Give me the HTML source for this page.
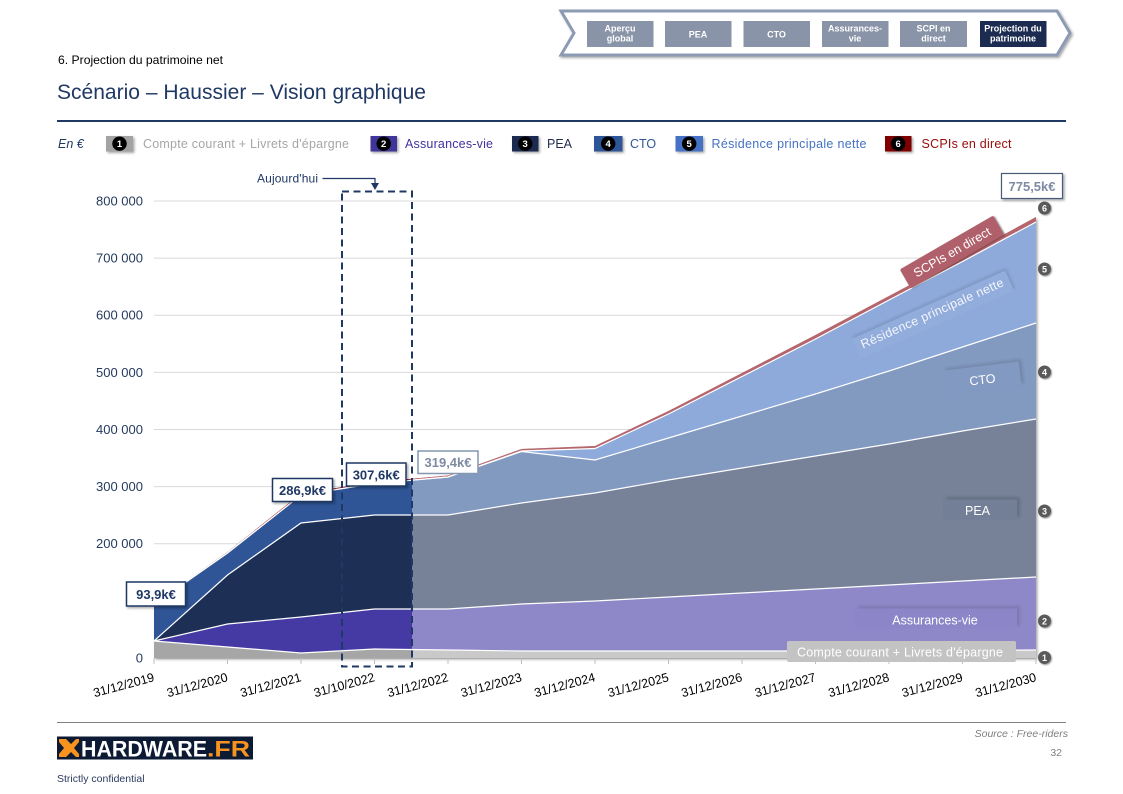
<!DOCTYPE html>
<html><head><meta charset="utf-8"><style>
html,body{margin:0;padding:0;background:#fff;}
svg{display:block;}
text{font-family:"Liberation Sans",Arial,sans-serif;}
</style></head><body>
<svg width="1123" height="794" viewBox="0 0 1123 794" xmlns="http://www.w3.org/2000/svg">
<defs>
<filter id="sh" x="-30%" y="-30%" width="160%" height="160%"><feDropShadow dx="1.5" dy="1.5" stdDeviation="1.2" flood-color="#000" flood-opacity="0.35"/></filter>
<filter id="shs" x="-30%" y="-30%" width="160%" height="160%"><feDropShadow dx="1" dy="1" stdDeviation="0.8" flood-color="#000" flood-opacity="0.4"/></filter>
<filter id="blur2"><feGaussianBlur stdDeviation="1.5"/></filter>
<clipPath id="areaClip"><polygon points="154,604 227.5,552 301,493.5 374.5,482 448,475.5 521.5,449 595,446 668.5,411 742,373 815.5,335 889,296 962.5,257 1036,217 1036,658 154,658"/></clipPath>
</defs>

<!-- NAV -->
<polygon points="561,11 1057,11 1070,33 1057,55 561,55 574,33" fill="#fff" stroke="#8c9ab3" stroke-width="3" filter="url(#sh)"/>
<g font-size="9" font-weight="bold" fill="#fff" text-anchor="middle">
<rect x="587" y="21" width="66.5" height="26" fill="#8a94a8"/>
<text x="620" y="31.5">Aperçu</text><text x="620" y="41.5">global</text>
<rect x="665" y="21" width="66.5" height="26" fill="#8a94a8"/>
<text x="698" y="37.5">PEA</text>
<rect x="743.5" y="21" width="66.5" height="26" fill="#8a94a8"/>
<text x="776.5" y="37.5">CTO</text>
<rect x="822" y="21" width="66.5" height="26" fill="#8a94a8"/>
<text x="855" y="31.5">Assurances-</text><text x="855" y="41.5">vie</text>
<rect x="900" y="21" width="67" height="26" fill="#8a94a8"/>
<text x="933.5" y="31.5">SCPI en</text><text x="933.5" y="41.5">direct</text>
<rect x="980" y="21" width="66.5" height="26" fill="#1c2c51"/>
<text x="1013" y="31.5">Projection du</text><text x="1013" y="41.5">patrimoine</text>
</g>

<!-- HEADER -->
<text x="58" y="64" font-size="12" fill="#000" textLength="165" lengthAdjust="spacingAndGlyphs">6. Projection du patrimoine net</text>
<text x="57" y="99" font-size="21" fill="#1f3864" textLength="369" lengthAdjust="spacingAndGlyphs">Scénario – Haussier – Vision graphique</text>
<rect x="57" y="120" width="1009" height="2" fill="#1f3864"/>

<!-- LEGEND -->
<text x="58" y="148" font-size="12.5" font-style="italic" fill="#1f3864">En €</text>
<g>
<rect x="106" y="136" width="27" height="15.5" fill="#a3a3a3" filter="url(#sh)"/>
<rect x="370.5" y="136" width="26.5" height="15.5" fill="#3f3599" filter="url(#sh)"/>
<rect x="512" y="136" width="26.5" height="15.5" fill="#1e2c50" filter="url(#sh)"/>
<rect x="594" y="136" width="28.5" height="15.5" fill="#2f5597" filter="url(#sh)"/>
<rect x="675.5" y="136" width="27.5" height="15.5" fill="#4472c4" filter="url(#sh)"/>
<rect x="885" y="136" width="26.5" height="15.5" fill="#7f0000" filter="url(#sh)"/>
</g>
<g fill="#000">
<circle cx="119.5" cy="143.7" r="7.2"/><circle cx="383.7" cy="143.7" r="7.2"/><circle cx="525.2" cy="143.7" r="7.2"/>
<circle cx="608.2" cy="143.7" r="7.2"/><circle cx="689.2" cy="143.7" r="7.2"/><circle cx="898.2" cy="143.7" r="7.2"/>
</g>
<g font-size="9.5" font-weight="bold" fill="#fff" text-anchor="middle">
<text x="119.5" y="147.2">1</text><text x="383.7" y="147.2">2</text><text x="525.2" y="147.2">3</text>
<text x="608.2" y="147.2">4</text><text x="689.2" y="147.2">5</text><text x="898.2" y="147.2">6</text>
</g>
<g font-size="12.5">
<text x="143" y="148" fill="#a6a6a6" textLength="206" lengthAdjust="spacing">Compte courant + Livrets d'épargne</text>
<text x="405" y="148" fill="#3f33a0" textLength="88" lengthAdjust="spacing">Assurances-vie</text>
<text x="547" y="148" fill="#1f2d4f">PEA</text>
<text x="630" y="148" fill="#2f5597">CTO</text>
<text x="711.5" y="148" fill="#4472c4" textLength="155" lengthAdjust="spacing">Résidence principale nette</text>
<text x="921.5" y="148" fill="#9a0a0a" textLength="90" lengthAdjust="spacing">SCPIs en direct</text>
</g>

<!-- GRID -->
<g stroke="#d9d9d9" stroke-width="1">
<line x1="154" y1="201" x2="1036" y2="201"/>
<line x1="154" y1="258.1" x2="1036" y2="258.1"/>
<line x1="154" y1="315.25" x2="1036" y2="315.25"/>
<line x1="154" y1="372.4" x2="1036" y2="372.4"/>
<line x1="154" y1="429.5" x2="1036" y2="429.5"/>
<line x1="154" y1="486.6" x2="1036" y2="486.6"/>
<line x1="154" y1="543.75" x2="1036" y2="543.75"/>
<line x1="154" y1="600.9" x2="1036" y2="600.9"/>
<line x1="154" y1="658" x2="1036" y2="658"/>
</g>
<g font-size="13" fill="#253a5e" text-anchor="end">
<text x="143" y="205.5">800 000</text>
<text x="143" y="262.6">700 000</text>
<text x="143" y="319.7">600 000</text>
<text x="143" y="376.9">500 000</text>
<text x="143" y="434">400 000</text>
<text x="143" y="491.1">300 000</text>
<text x="143" y="548.2">200 000</text>
<text x="143" y="662.5">0</text>
</g>

<!-- AREAS -->
<polygon points="154,604 227.5,552 301,493.5 374.5,482 448,475.5 521.5,449 595,446 668.5,411 742,373 815.5,335 889,296 962.5,257 1036,217 1036,658 154,658" fill="#840010" filter="url(#sh)"/>
<polygon points="154,604.4 227.5,553 301,495 374.5,483.5 448,477 521.5,451 595,448.5 668.5,414 742,376.5 815.5,339 889,300 962.5,261.5 1036,222 1036,658 154,658" fill="#4472c4"/>
<polygon points="154,604.4 227.5,553 301,495 374.5,483.5 448,477 521.5,451.5 595,460 668.5,438 742,416 815.5,394 889,371 962.5,347 1036,323 1036,658 154,658" fill="#2f5597"/>
<polygon points="154,641 227.5,575 301,523 374.5,515 448,515 521.5,503 595,493 668.5,480 742,468 815.5,456 889,444 962.5,431 1036,419 1036,658 154,658" fill="#1d2f55"/>
<polygon points="154,641 227.5,624 301,617 374.5,609 448,609 521.5,604 595,601 668.5,597 742,593 815.5,589 889,585 962.5,581 1036,577 1036,658 154,658" fill="#453aa3"/>
<polygon points="154,641 227.5,647 301,653 374.5,649 448,650 521.5,651 595,651 668.5,651 742,651 815.5,651 889,651 962.5,650.5 1036,650 1036,658 154,658" fill="#a6a6a6"/>
<rect x="412" y="150" width="624" height="510" fill="#fff" fill-opacity="0.4" clip-path="url(#areaClip)"/>
<g fill="none" stroke="#fff" stroke-width="1.2">
<polyline points="154,604.4 227.5,553 301,495 374.5,483.5 448,477 521.5,451 595,448.5 668.5,414 742,376.5 815.5,339 889,300 962.5,261.5 1036,222"/>
<polyline points="154,604.4 227.5,553 301,495 374.5,483.5 448,477 521.5,451.5 595,460 668.5,438 742,416 815.5,394 889,371 962.5,347 1036,323"/>
<polyline points="154,641 227.5,575 301,523 374.5,515 448,515 521.5,503 595,493 668.5,480 742,468 815.5,456 889,444 962.5,431 1036,419"/>
<polyline points="154,641 227.5,624 301,617 374.5,609 448,609 521.5,604 595,601 668.5,597 742,593 815.5,589 889,585 962.5,581 1036,577"/>
<polyline points="154,641 227.5,647 301,653 374.5,649 448,650 521.5,651 595,651 668.5,651 742,651 815.5,651 889,651 962.5,650.5 1036,650"/>
</g>

<!-- ticks and x labels -->
<g stroke="#bfbfbf" stroke-width="1">
<line x1="154" y1="658" x2="154" y2="664"/><line x1="227.5" y1="658" x2="227.5" y2="664"/><line x1="301" y1="658" x2="301" y2="664"/>
<line x1="374.5" y1="658" x2="374.5" y2="664"/><line x1="448" y1="658" x2="448" y2="664"/><line x1="521.5" y1="658" x2="521.5" y2="664"/>
<line x1="595" y1="658" x2="595" y2="664"/><line x1="668.5" y1="658" x2="668.5" y2="664"/><line x1="742" y1="658" x2="742" y2="664"/>
<line x1="815.5" y1="658" x2="815.5" y2="664"/><line x1="889" y1="658" x2="889" y2="664"/><line x1="962.5" y1="658" x2="962.5" y2="664"/>
<line x1="1036" y1="658" x2="1036" y2="664"/>
</g>
<g font-size="12.5" fill="#000" text-anchor="end">
<text x="155" y="681" transform="rotate(-15 155 681)">31/12/2019</text>
<text x="228.5" y="681" transform="rotate(-15 228.5 681)">31/12/2020</text>
<text x="302" y="681" transform="rotate(-15 302 681)">31/12/2021</text>
<text x="375.5" y="681" transform="rotate(-15 375.5 681)">31/10/2022</text>
<text x="449" y="681" transform="rotate(-15 449 681)">31/12/2022</text>
<text x="522.5" y="681" transform="rotate(-15 522.5 681)">31/12/2023</text>
<text x="596" y="681" transform="rotate(-15 596 681)">31/12/2024</text>
<text x="669.5" y="681" transform="rotate(-15 669.5 681)">31/12/2025</text>
<text x="743" y="681" transform="rotate(-15 743 681)">31/12/2026</text>
<text x="816.5" y="681" transform="rotate(-15 816.5 681)">31/12/2027</text>
<text x="890" y="681" transform="rotate(-15 890 681)">31/12/2028</text>
<text x="963.5" y="681" transform="rotate(-15 963.5 681)">31/12/2029</text>
<text x="1037" y="681" transform="rotate(-15 1037 681)">31/12/2030</text>
</g>

<!-- Today box -->
<rect x="342" y="191.5" width="70" height="475" fill="none" stroke="#1f3864" stroke-width="2" stroke-dasharray="7,4.5"/>
<text x="257" y="182.5" font-size="12" fill="#1f3864" textLength="61" lengthAdjust="spacing">Aujourd'hui</text>
<polyline points="322.5,178.5 375,178.5 375,184" fill="none" stroke="#1f3864" stroke-width="1.2"/>
<polygon points="371,183 379,183 375,190" fill="#1f3864"/>

<!-- in-chart labels -->
<g transform="translate(952 252) rotate(-30)">
<rect x="-54" y="-11" width="108" height="22" rx="2" fill="#b0606a" filter="url(#shs)"/>
<text x="0" y="4.5" font-size="12.5" fill="#fff" text-anchor="middle">SCPIs en direct</text>
</g>
<g transform="translate(932 313) rotate(-24)">
<rect x="-82" y="-11" width="168" height="22" fill="#000" fill-opacity="0.12" filter="url(#blur2)"/>
<rect x="-84" y="-9" width="168" height="22" fill="#92acdb"/>
<text x="0" y="4.5" font-size="12.5" fill="#f4f6fc" text-anchor="middle" textLength="155" lengthAdjust="spacing">Résidence principale nette</text>
</g>
<g transform="translate(982 376) rotate(-7)">
<rect x="-35" y="-12" width="76" height="24" fill="#000" fill-opacity="0.12" filter="url(#blur2)"/>
<rect x="-38" y="-10" width="76" height="24" fill="#8299c1"/>
<text x="0" y="8" font-size="12.5" fill="#fff" text-anchor="middle">CTO</text>
</g>
<rect x="946" y="497" width="74" height="20" fill="#000" fill-opacity="0.15" filter="url(#blur2)"/>
<rect x="943" y="499.5" width="74" height="20" fill="#737f97"/>
<text x="977.5" y="515" font-size="12.5" fill="#fff" text-anchor="middle">PEA</text>
<rect x="858" y="606" width="162" height="20" fill="#000" fill-opacity="0.12" filter="url(#blur2)"/>
<rect x="855" y="608.5" width="162" height="20" fill="#8c86c8"/>
<text x="935" y="624.5" font-size="12.5" fill="#fff" text-anchor="middle">Assurances-vie</text>
<rect x="787" y="641" width="229" height="21" rx="2" fill="#c3c3c3"/>
<text x="797" y="656.5" font-size="12.5" fill="#fff" textLength="206" lengthAdjust="spacing">Compte courant + Livrets d'épargne</text>

<!-- right numbered circles -->
<g filter="url(#shs)" fill="#5a5a5a">
<circle cx="1044.5" cy="208" r="6.5"/><circle cx="1044.5" cy="269" r="6.5"/><circle cx="1044.5" cy="372" r="6.5"/>
<circle cx="1044.5" cy="511" r="6.5"/><circle cx="1044.5" cy="621" r="6.5"/><circle cx="1044.5" cy="657.5" r="6.5"/>
</g>
<g font-size="9" font-weight="bold" fill="#fff" text-anchor="middle">
<text x="1044.5" y="211.3">6</text><text x="1044.5" y="272.3">5</text><text x="1044.5" y="375.3">4</text>
<text x="1044.5" y="514.3">3</text><text x="1044.5" y="624.3">2</text><text x="1044.5" y="660.8">1</text>
</g>

<!-- value boxes -->
<g font-size="13" font-weight="bold" text-anchor="middle">
<rect x="126.5" y="582" width="59" height="24" fill="#fff" stroke="#1f3864" stroke-width="1.5" filter="url(#sh)"/>
<text x="156" y="599" fill="#1f3864">93,9k€</text>
<rect x="272.5" y="478.5" width="60" height="23" fill="#fff" stroke="#1f3864" stroke-width="1.5" filter="url(#sh)"/>
<text x="302.5" y="495" fill="#1f3864">286,9k€</text>
<rect x="346.5" y="463" width="59.5" height="23" fill="#fff" stroke="#1f3864" stroke-width="1.5" filter="url(#sh)"/>
<text x="376.2" y="479.5" fill="#1f3864">307,6k€</text>
<rect x="418" y="451" width="60" height="22.5" fill="#fff" stroke="#8496b0" stroke-width="1.5"/>
<text x="448" y="467" fill="#7f8aa3">319,4k€</text>
<rect x="1001.5" y="173.5" width="61" height="25" fill="#fff" stroke="#4a5a7a" stroke-width="1.2" filter="url(#sh)"/>
<text x="1032" y="191" fill="#7f8aa3">775,5k€</text>
</g>

<!-- FOOTER -->
<rect x="57" y="722" width="1009" height="1" fill="#808080"/>
<rect x="57" y="736.5" width="196" height="23" fill="#0c1a33"/>
<polygon points="59,739 66,739 71,744 76,739 79,739 79,742 74,748 79,754 79,757 76,757 71,752 66,757 59,757 59,754 64,748 59,742" fill="#f7931e"/>
<text x="81" y="756.5" font-size="22" font-weight="bold" fill="#fff" textLength="126" lengthAdjust="spacingAndGlyphs">HARDWARE</text>
<text x="207" y="756.5" font-size="22" font-weight="bold" fill="#f7931e" textLength="43" lengthAdjust="spacingAndGlyphs">.FR</text>
<text x="57" y="782" font-size="10.5" fill="#2a3a5e">Strictly confidential</text>
<text x="1068" y="737" font-size="10.5" font-style="italic" fill="#7f7f7f" text-anchor="end">Source : Free-riders</text>
<text x="1062" y="756" font-size="10.5" fill="#7f7f7f" text-anchor="end">32</text>
</svg>
</body></html>
